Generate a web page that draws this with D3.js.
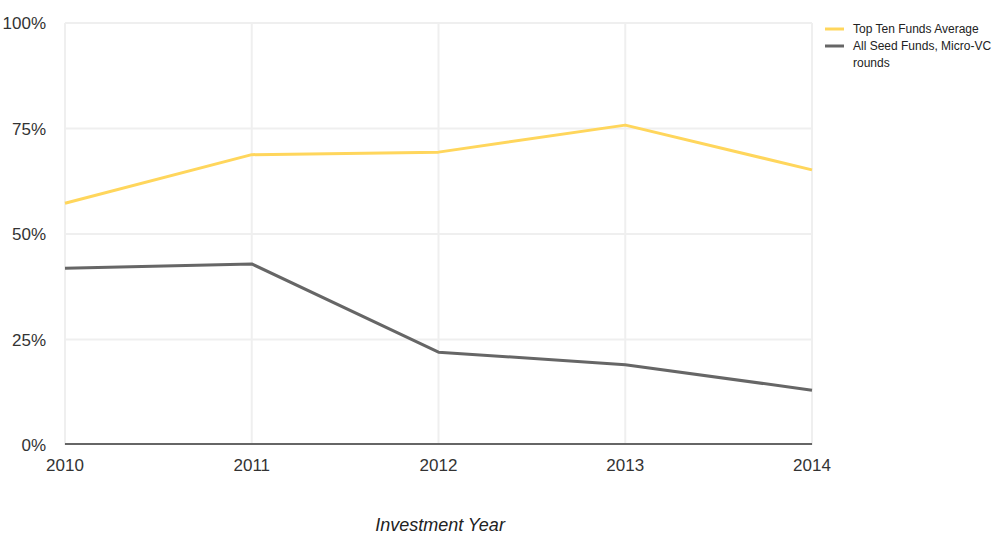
<!DOCTYPE html>
<html><head><meta charset="utf-8">
<script src="https://cdn.jsdelivr.net/npm/d3@7"></script>
<style>body{margin:0;background:#fff;}svg{display:block;font-family:Arial,"Liberation Sans",sans-serif;}</style>
</head><body>
<svg id="c" width="1000" height="548"></svg>
<script>
const years = [2010, 2011, 2012, 2013, 2014];
const topTen = [57.3, 68.8, 69.4, 75.8, 65.2];
const allSeed = [41.9, 42.9, 22.0, 19.0, 13.0];
const yTicks = [0, 25, 50, 75, 100];
const seriesNames = ["Top Ten Funds Average", "All Seed Funds, Micro-VC rounds"];
const colors = ["#ffd65c", "#666666"];

const svg = d3.select("#c");
const x = d3.scaleLinear().domain([2010, 2014]).range([65, 812]);
const y = d3.scaleLinear().domain([0, 100]).range([445, 23]);

// gridlines
svg.append("g").selectAll("line").data(yTicks.filter(d => d > 0)).join("line")
  .attr("x1", 65).attr("x2", 812).attr("y1", d => y(d)).attr("y2", d => y(d))
  .attr("stroke", "#efefef").attr("stroke-width", 2);
svg.append("g").selectAll("line").data(years).join("line")
  .attr("x1", d => x(d)).attr("x2", d => x(d)).attr("y1", 23).attr("y2", 445)
  .attr("stroke", "#efefef").attr("stroke-width", 2);

// y labels
svg.append("g").selectAll("text").data(yTicks).join("text")
  .attr("x", 46).attr("y", d => y(d) + 6).attr("text-anchor", "end")
  .attr("font-size", 17).attr("fill", "#333").text(d => d + "%");

// x labels
svg.append("g").selectAll("text").data(years).join("text")
  .attr("x", d => x(d)).attr("y", 471).attr("text-anchor", "middle")
  .attr("font-size", 17).attr("fill", "#333").text(d => d);

// axis line
svg.append("line").attr("x1", 65).attr("x2", 812).attr("y1", 444).attr("y2", 444)
  .attr("stroke", "#666").attr("stroke-width", 2);

const line = d3.line().x((d, i) => x(years[i])).y(d => y(d));
[topTen, allSeed].forEach((s, i) => {
  svg.append("path").attr("d", line(s)).attr("fill", "none")
    .attr("stroke", colors[i]).attr("stroke-width", 3).attr("stroke-linejoin", "round");
});

// legend
const lg = svg.append("g");
const legendRows = [{y: 29, lines: ["Top Ten Funds Average"]}, {y: 46, lines: ["All Seed Funds, Micro-VC", "rounds"]}];
legendRows.forEach((r, i) => {
  lg.append("line").attr("x1", 825).attr("x2", 844).attr("y1", r.y).attr("y2", r.y)
    .attr("stroke", colors[i]).attr("stroke-width", 3);
  r.lines.forEach((t, j) => {
    lg.append("text").attr("x", 853).attr("y", r.y + 4 + j * 17)
      .attr("font-size", 12).attr("fill", "#222").text(t);
  });
});

// axis title
svg.append("text").attr("x", 440).attr("y", 531).attr("text-anchor", "middle")
  .attr("font-size", 18).attr("font-style", "italic").attr("fill", "#222").text("Investment Year");
</script>
</body></html>
